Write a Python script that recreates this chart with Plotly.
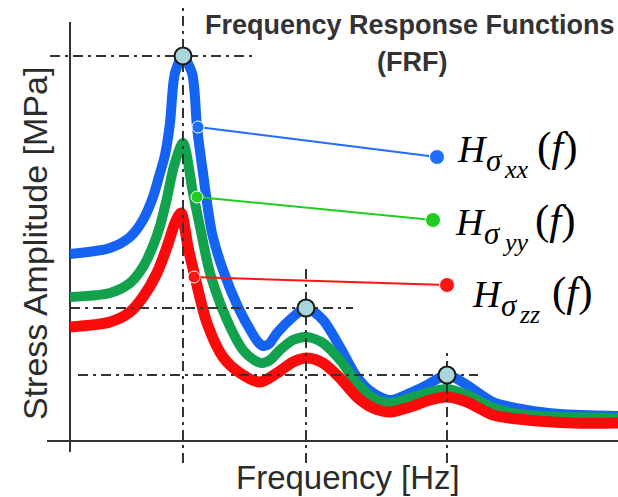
import plotly.graph_objects as go

# ---------------- data (frequency in arbitrary units from the axis origin, amplitude in arbitrary units) -------------
blue_f = [0, 40, 60, 73, 83, 90, 95, 100, 105, 113, 122, 127, 133, 142, 153, 168, 182, 188, 193, 199, 207, 223, 236,
          253, 270, 287, 303, 320, 340, 357, 377, 397, 423, 457, 490, 548]
blue_A = [187, 193, 204, 221, 244, 268, 286, 318, 368, 384, 368, 314, 268, 208, 171, 134, 108, 99, 95, 97, 108, 124, 133,
          121, 94, 64, 48, 41, 48, 56, 66, 56, 39, 31, 27, 25]

green_f = [0, 40, 60, 73, 83, 90, 97, 104, 113, 123, 130, 140, 157, 173, 184, 192, 200, 210, 223, 237,
           253, 270, 287, 303, 320, 340, 360, 377, 397, 423, 457, 548]
green_A = [144, 148, 158, 174, 195, 215, 243, 275, 298, 248, 214, 168, 121, 91, 81, 78, 81, 91, 101, 104,
           98, 81, 58, 43, 38, 43, 49, 52, 46, 33, 26, 23]

red_f = [0, 40, 60, 73, 87, 97, 105, 111, 118, 125, 137, 153, 170, 190, 207, 223, 237,
         253, 270, 287, 303, 320, 340, 360, 377, 397, 423, 457, 503, 548]
red_A = [114, 119, 129, 144, 168, 194, 218, 228, 194, 164, 118, 84, 68, 59, 68, 79, 83,
         78, 63, 44, 33, 29, 34, 41, 44, 39, 26, 21, 18, 18]

# resonance peaks (picked on the blue curve)
peak_f = [113, 236, 377]
peak_A = [385, 133, 66]

# connector lines from curves to labels
conn_blue_f, conn_blue_A = [128, 367], [314, 284]
conn_green_f, conn_green_A = [127, 363], [244, 221]
conn_red_f, conn_red_A = [124, 377], [164, 156]

# label texts
label_subs = ["xx", "yy", "zz"]

# ---------------- styles / positions ----------------
C_BLUE = "#1463F2"
C_GREEN = "#12A24E"
C_RED = "#FA0A0A"
C_CBLUE = "#1E6EFF"
C_CGREEN = "#1FCC1F"
C_CRED = "#FF1414"
C_GUIDE = "#333333"
C_AXIS = "#333333"

fig = go.Figure()

# axes lines
fig.add_trace(go.Scatter(x=[-23, 548], y=[0, 0], mode="lines",
                         line=dict(color=C_AXIS, width=2), hoverinfo="skip"))
fig.add_trace(go.Scatter(x=[0, 0], y=[-11, 419], mode="lines",
                         line=dict(color=C_AXIS, width=2), hoverinfo="skip"))

# curves
for fx, ay, col, w in [(blue_f, blue_A, C_BLUE, 10), (green_f, green_A, C_GREEN, 10), (red_f, red_A, C_RED, 11)]:
    fig.add_trace(go.Scatter(x=fx, y=ay, mode="lines",
                             line=dict(color=col, width=w, shape="spline", smoothing=0.8),
                             hoverinfo="skip"))

# guide lines (dash-dot)
v_bottom = -22
v_tops = [434, 174, 88]
h_extent = [(-20, 185), (0, 283), (8, 408)]
dash = "10px,5px,3px,5px"
for pf, pa, top, (h0, h1) in zip(peak_f, peak_A, v_tops, h_extent):
    fig.add_trace(go.Scatter(x=[pf, pf], y=[v_bottom, top], mode="lines",
                             line=dict(color=C_GUIDE, width=2, dash=dash), hoverinfo="skip"))
    fig.add_trace(go.Scatter(x=[h0, h1], y=[pa, pa], mode="lines",
                             line=dict(color=C_GUIDE, width=2, dash=dash), hoverinfo="skip"))

# connectors
for fx, ay, col in [(conn_blue_f, conn_blue_A, C_CBLUE), (conn_green_f, conn_green_A, C_CGREEN),
                    (conn_red_f, conn_red_A, C_CRED)]:
    fig.add_trace(go.Scatter(x=fx, y=ay, mode="lines+markers",
                             line=dict(color=col, width=2),
                             marker=dict(color=col, size=[12, 15], opacity=1), hoverinfo="skip"))

# peak markers
fig.add_trace(go.Scatter(x=peak_f, y=peak_A, mode="markers",
                         marker=dict(size=17, color="#A9D6DD", opacity=1, line=dict(color="#1a1a1a", width=2)),
                         hoverinfo="skip"))

# labels  H_{sigma_ab}(f)
label_pos = [(386, 279), (384, 206), (401, 134)]  # (H left, baseline) in data units
serif = "Liberation Serif"
BIG, MID, SMALL, PAR = 38, 31, 26, 43
for (hx, hb), sub in zip(label_pos, label_subs):
    parts = [
        ("<i>H</i>", hx, hb, BIG),
        ("<i>σ</i>", hx + 29, hb - 9, MID),
        ("<i>" + sub + "</i>", hx + 47, hb - 16, SMALL),
        ("(<i>f</i>)", hx + 80, hb, PAR),
    ]
    for txt, x, b, s in parts:
        fig.add_annotation(x=x, y=b + 0.34 * s, xref="x", yref="y", text=txt, showarrow=False,
                           xanchor="left", yanchor="middle", borderpad=0,
                           font=dict(family=serif, size=s, color="#000000"))

# titles
fig.add_annotation(x=340, y=416, xref="x", yref="y", text="<b>Frequency Response Functions</b>",
                   showarrow=False, xanchor="center", yanchor="middle",
                   font=dict(family="Liberation Sans", size=27, color="#333333"))
fig.add_annotation(x=342, y=379, xref="x", yref="y", text="<b>(FRF)</b>",
                   showarrow=False, xanchor="center", yanchor="middle",
                   font=dict(family="Liberation Sans", size=27, color="#333333"))
fig.add_annotation(x=278, y=-36, xref="x", yref="y", text="Frequency [Hz]",
                   showarrow=False, xanchor="center", yanchor="middle",
                   font=dict(family="Liberation Sans", size=33, color="#2b2b2b"))
fig.add_annotation(x=-35, y=197, xref="x", yref="y", text="Stress Amplitude [MPa]", textangle=-90,
                   showarrow=False, xanchor="center", yanchor="middle",
                   font=dict(family="Liberation Sans", size=34, color="#2b2b2b"))

fig.update_layout(
    width=618, height=497, margin=dict(l=0, r=0, t=0, b=0),
    paper_bgcolor="white", plot_bgcolor="white", showlegend=False,
    xaxis=dict(range=[-70, 548], visible=False, fixedrange=True),
    yaxis=dict(range=[-56, 441], visible=False, fixedrange=True),
)

fig.write_html("out.html")
